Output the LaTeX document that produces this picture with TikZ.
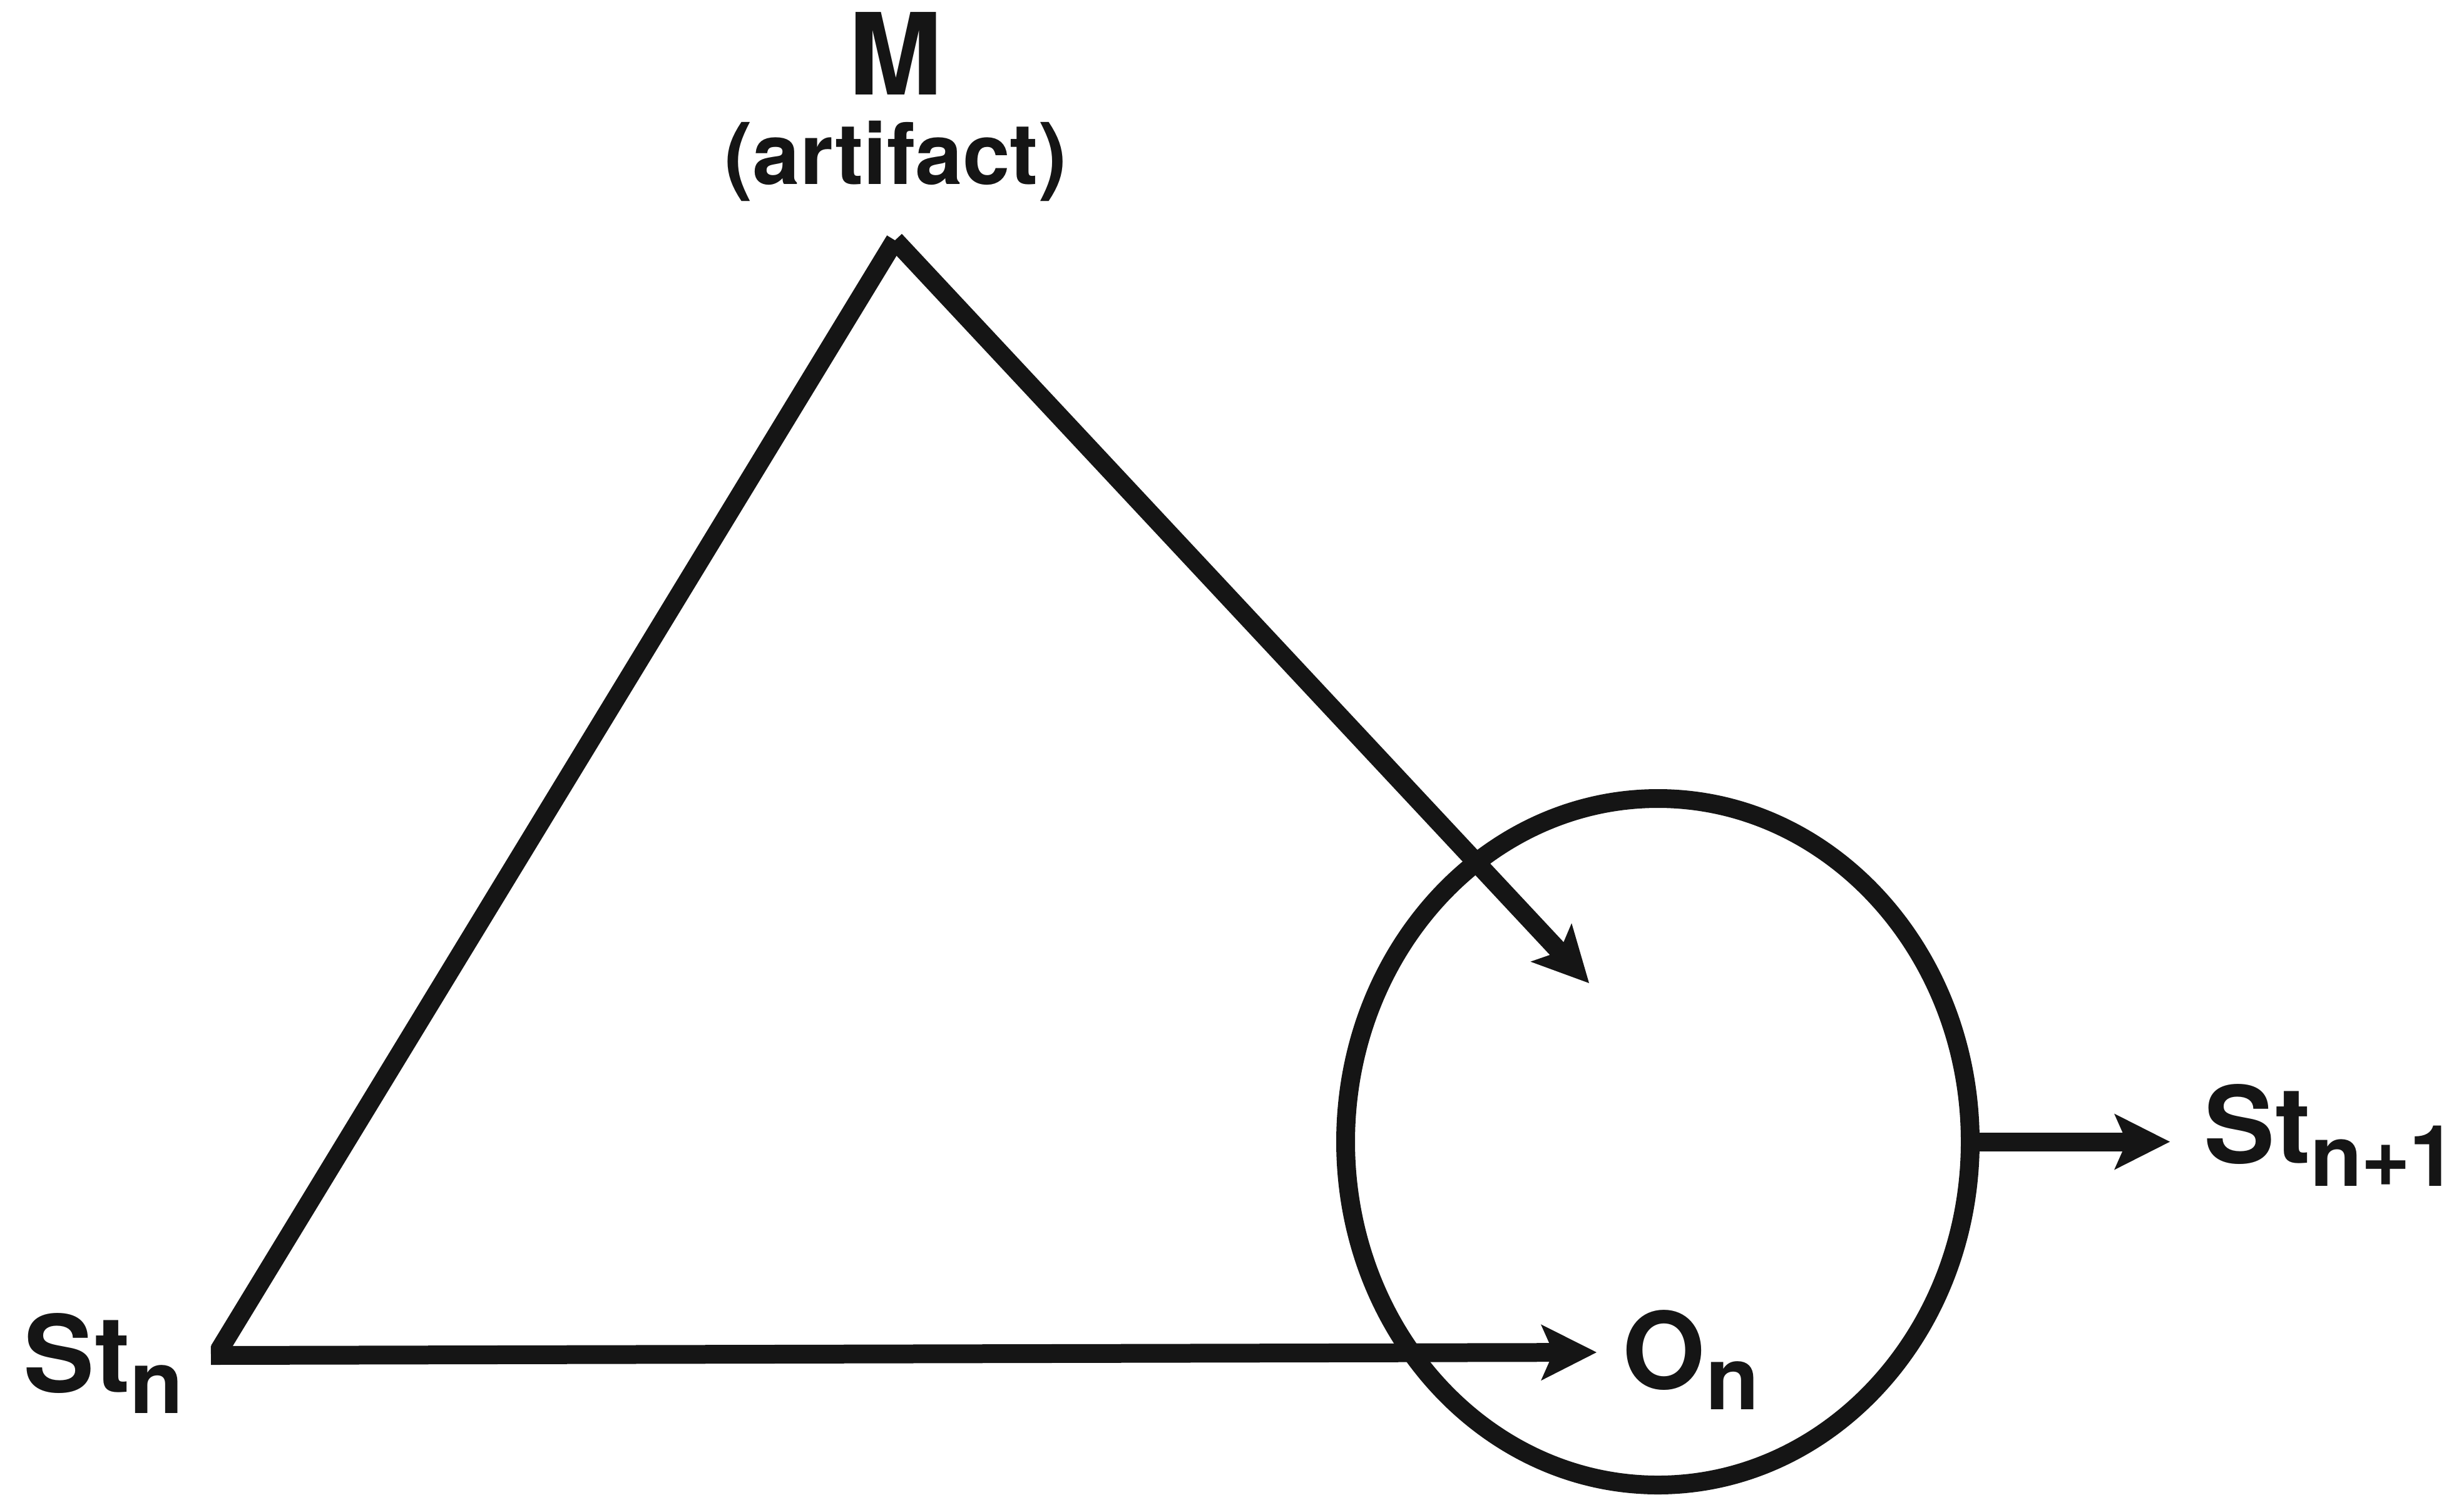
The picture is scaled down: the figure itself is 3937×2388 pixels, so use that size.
\documentclass[tikz,border=0pt]{standalone}
\usepackage{fontspec}
\setmainfont{TeX Gyre Heros}
\usetikzlibrary{arrows.meta,shapes.geometric}
\definecolor{ink}{RGB}{21,21,21}
\newcommand\mysub[3][35]{\raisebox{-#2}{\fontsize{#1}{#1}\selectfont #3}}
\begin{document}
\begin{tikzpicture}[x=0.25pt,y=-0.25pt,
  line/.style={draw=ink, line width=7.5pt},
  arr/.style={line, -{Stealth[length=22.25pt,width=22.5pt,inset=5pt,line width=0pt]}},
  lbl/.style={inner sep=0, text=ink, font=\bfseries\fontsize{42.5}{42.5}\selectfont},
  toplbl/.style={inner sep=0, text=ink, anchor=base}]
\useasboundingbox (0,0) rectangle (3937,2388);
% labels
\node[toplbl, font=\bfseries\fontsize{45.25}{45.25}\selectfont] (m) at (1431,151) {M};
\node[toplbl, font=\bfseries\fontsize{34}{34}\selectfont] (art) at (1431,294) {(artifact)};
\node[lbl, anchor=base west] (stn) at (37,2224) {St\mysub{8.5pt}{n}};
\node[lbl, anchor=base west] (on) at (2592,2219) {O\mysub{8.25pt}{n}};
\node[lbl, anchor=base west] (stn1) at (3521,1858) {St\mysub[34]{9.25pt}{n\kern-0.6pt+\kern-0.6pt1}};
% ellipse
\node[ellipse, draw=ink, line width=7.5pt, minimum width=249.5pt, minimum height=274.25pt, inner sep=0] (circ) at (2649,1824.5) {};
% points
\coordinate (corner) at (337,2166);
\coordinate (cornerL) at (350,2158);
\coordinate (apex) at (1430,384);
\coordinate (tipM) at (2539,1571);
\coordinate (tipO) at (2551,2161);
\coordinate (tipS) at (3467,1824.5);
% connectors
\draw[line] (cornerL) -- (apex);
\draw[arr] (apex) -- (tipM);
\draw[arr] (corner) -- (tipO);
\draw[arr] (circ.east) -- (tipS);
\end{tikzpicture}
\end{document}
